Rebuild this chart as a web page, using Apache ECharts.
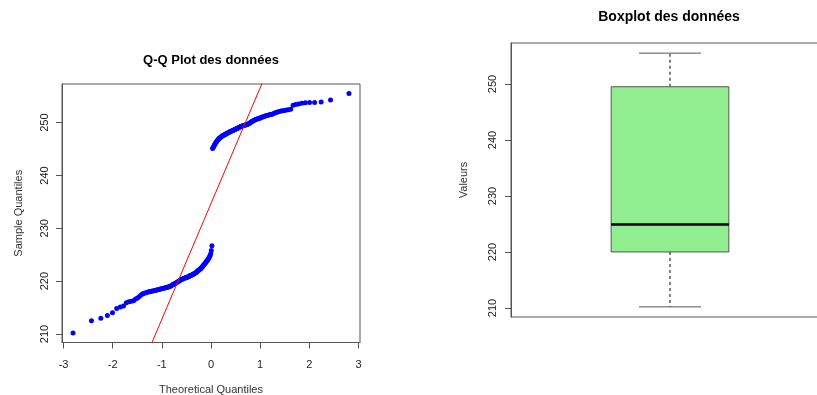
<!DOCTYPE html>
<html>
<head>
<meta charset="utf-8">
<title>Q-Q Plot et Boxplot des données</title>
<script src="https://cdn.jsdelivr.net/npm/echarts@6/dist/echarts.min.js"></script>
<style>
  html, body { margin: 0; padding: 0; background: #fff; }
  #chart { width: 817px; height: 395px; }
</style>
</head>
<body>
<div id="chart"></div>
<script>
// Sorted sample: lower group and upper group of the measurements
const lowerGroup = [
  210.2, 212.5, 213.0, 213.5, 214.0, 214.8, 215.1, 215.3, 215.9, 216.1,
  216.2, 216.3, 216.6, 216.8, 217.1, 217.4, 217.6, 217.7, 217.8, 217.9,
  218.0, 218.0, 218.1, 218.15, 218.2, 218.25, 218.3, 218.35, 218.4, 218.45,
  218.5, 218.55, 218.6, 218.65, 218.7, 218.75, 218.8, 218.85, 218.9, 219.0,
  219.05, 219.1, 219.2, 219.3, 219.4, 219.5, 219.55, 219.65, 219.75, 219.85,
  219.95, 220.05, 220.1, 220.2, 220.3, 220.35, 220.4, 220.5, 220.55, 220.6,
  220.65, 220.7, 220.75, 220.8, 220.85, 220.9, 221.0, 221.05, 221.1, 221.15,
  221.2, 221.3, 221.35, 221.45, 221.5, 221.6, 221.7, 221.8, 221.9, 222.0,
  222.1, 222.2, 222.3, 222.4, 222.5, 222.65, 222.8, 222.95, 223.1, 223.25,
  223.4, 223.55, 223.7, 223.85, 224.0, 224.2, 224.4, 224.6, 224.8, 225.2,
  225.8, 226.7
];
const upperGroup = [
  245.1, 245.3, 245.5, 245.75, 245.95, 246.15, 246.35, 246.5, 246.65, 246.8,
  246.95, 247.05, 247.15, 247.25, 247.35, 247.4, 247.5, 247.55, 247.6, 247.7,
  247.75, 247.85, 247.9, 248.0, 248.05, 248.1, 248.2, 248.25, 248.3, 248.35,
  248.4, 248.45, 248.5, 248.6, 248.65, 248.7, 248.8, 248.85, 248.9, 249.0,
  249.05, 249.1, 249.2, 249.25, 249.3, 249.35, 249.4, 249.45, 249.5, 249.55,
  249.6, 249.65, 249.7, 249.8, 249.9, 250.0, 250.1, 250.2, 250.3, 250.4,
  250.5, 250.6, 250.65, 250.7, 250.8, 250.85, 250.9, 251.0, 251.05, 251.1,
  251.2, 251.3, 251.35, 251.4, 251.5, 251.55, 251.6, 251.7, 251.8, 251.9,
  252.0, 252.1, 252.2, 252.25, 252.3, 252.4, 252.45, 252.55, 253.3, 253.45,
  253.55, 253.65, 253.75, 253.8, 253.8, 253.9, 254.3, 255.5
];

// Boxplot statistics: lower whisker, Q1, median, Q3, upper whisker
const boxStats = [210.2, 220.0, 224.9, 249.5, 255.5];

// Tick labels
const qqXTicks = [-3, -2, -1, 0, 1, 2, 3];
const valueTicks = [210, 220, 230, 240, 250];

// Normal quantile function (Acklam's rational approximation)
function qnorm(p) {
  const a = [-3.969683028665376e+01, 2.209460984245205e+02, -2.759285104469687e+02,
             1.383577518672690e+02, -3.066479806614716e+01, 2.506628277459239e+00];
  const b = [-5.447609879822406e+01, 1.615858368580409e+02, -1.556989798598866e+02,
             6.680131188771972e+01, -1.328068155288572e+01];
  const c = [-7.784894002430293e-03, -3.223964580411365e-01, -2.400758277161838e+00,
             -2.549732539343734e+00, 4.374664141464968e+00, 2.938163982698783e+00];
  const d = [7.784695709041462e-03, 3.224671290700398e-01, 2.445134137142996e+00,
             3.754408661907416e+00];
  const pl = 0.02425, ph = 1 - pl;
  if (p < pl) {
    const q = Math.sqrt(-2 * Math.log(p));
    return (((((c[0]*q+c[1])*q+c[2])*q+c[3])*q+c[4])*q+c[5]) / ((((d[0]*q+d[1])*q+d[2])*q+d[3])*q+1);
  }
  if (p <= ph) {
    const q = p - 0.5, r = q * q;
    return (((((a[0]*r+a[1])*r+a[2])*r+a[3])*r+a[4])*r+a[5])*q / (((((b[0]*r+b[1])*r+b[2])*r+b[3])*r+b[4])*r+1);
  }
  const q = Math.sqrt(-2 * Math.log(1 - p));
  return -(((((c[0]*q+c[1])*q+c[2])*q+c[3])*q+c[4])*q+c[5]) / ((((d[0]*q+d[1])*q+d[2])*q+d[3])*q+1);
}

// Theoretical quantiles at plotting positions (as qqnorm does)
const sample = lowerGroup.concat(upperGroup);
const n = sample.length;
const aPos = n <= 10 ? 3 / 8 : 0.5;
const qqPoints = sample.map((v, i) => [qnorm((i + 1 - aPos) / (n + 1 - 2 * aPos)), v]);

// Reference line through the first and third quartiles
function quantile7(sorted, p) {
  const h = (sorted.length - 1) * p;
  const lo = Math.floor(h);
  return sorted[lo] + (h - lo) * ((sorted[lo + 1] ?? sorted[lo]) - sorted[lo]);
}
const yQ1 = quantile7(sample, 0.25), yQ3 = quantile7(sample, 0.75);
const xQ1 = qnorm(0.25), xQ3 = qnorm(0.75);
const slope = (yQ3 - yQ1) / (xQ3 - xQ1);
const intercept = yQ1 - slope * xQ1;
const refLine = [[-5, intercept - 5 * slope], [5, intercept + 5 * slope]];

// Axis ranges extended by 4% like base graphics
function padded(lo, hi) { const r = hi - lo; return [lo - 0.04 * r, hi + 0.04 * r]; }
const xExt = padded(qqPoints[0][0], qqPoints[n - 1][0]);
const yExt = padded(sample[0], sample[n - 1]);
const boxExt = padded(boxStats[0], boxStats[4]);

const font = 'Liberation Sans, Arial, sans-serif';
const frameColor = '#555';
const tickText = { color: '#222', fontSize: 11, fontFamily: font };
const titleText = { color: '#333', fontSize: 11, fontFamily: font };
const frameLine = { show: true, onZero: false, lineStyle: { color: frameColor, width: 1 } };

const chart = echarts.init(document.getElementById('chart'), null, { renderer: 'canvas' });
chart.setOption({
  animation: false,
  backgroundColor: '#fff',
  textStyle: { fontFamily: font },
  title: [
    { text: 'Q-Q Plot des données', left: 211, top: 54, textAlign: 'center', padding: 0,
      textStyle: { fontFamily: font, fontSize: 13, fontWeight: 'bold', color: '#000' } },
    { text: 'Boxplot des données', left: 669, top: 10, textAlign: 'center', padding: 0,
      textStyle: { fontFamily: font, fontSize: 14, fontWeight: 'bold', color: '#000' } }
  ],
  grid: [
    { left: 62, top: 84, width: 298, height: 258.5, show: true, outerBoundsMode: 'none',
      borderColor: frameColor, borderWidth: 1, backgroundColor: 'transparent' },
    { left: 511, top: 43, width: 318, height: 274, show: true, outerBoundsMode: 'none',
      borderColor: frameColor, borderWidth: 1, backgroundColor: 'transparent' }
  ],
  xAxis: [
    { gridIndex: 0, type: 'value', min: xExt[0], max: xExt[1],
      name: 'Theoretical Quantiles', nameLocation: 'middle', nameGap: 42,
      nameTextStyle: titleText,
      axisLine: frameLine,
      axisTick: { show: true, length: 6, customValues: qqXTicks, lineStyle: { color: frameColor } },
      axisLabel: { customValues: qqXTicks, margin: 17, ...tickText },
      splitLine: { show: false } },
    { gridIndex: 1, type: 'category', data: [''], show: false }
  ],
  yAxis: [
    { gridIndex: 0, type: 'value', min: yExt[0], max: yExt[1],
      name: 'Sample Quantiles', nameLocation: 'middle', nameGap: 38,
      nameTextStyle: titleText,
      axisLine: frameLine,
      axisTick: { show: true, length: 6, customValues: valueTicks, lineStyle: { color: frameColor } },
      axisLabel: { customValues: valueTicks, rotate: 90, margin: 12, ...tickText },
      splitLine: { show: false } },
    { gridIndex: 1, type: 'value', min: boxExt[0], max: boxExt[1],
      name: 'Valeurs', nameLocation: 'middle', nameGap: 42,
      nameTextStyle: titleText,
      axisLine: frameLine,
      axisTick: { show: true, length: 6, customValues: valueTicks, lineStyle: { color: frameColor } },
      axisLabel: { customValues: valueTicks, rotate: 90, margin: 13, ...tickText },
      splitLine: { show: false } }
  ],
  series: [
    { type: 'scatter', xAxisIndex: 0, yAxisIndex: 0, data: qqPoints,
      symbol: 'circle', symbolSize: 5, itemStyle: { color: '#0000ff', opacity: 1 }, z: 2 },
    { type: 'line', xAxisIndex: 0, yAxisIndex: 0, data: refLine, showSymbol: false,
      clip: true, lineStyle: { color: '#ff0000', width: 1 }, z: 3 },
    { type: 'custom', xAxisIndex: 1, yAxisIndex: 1,
      data: [[0].concat(boxStats)],
      encode: { x: 0, y: [1, 2, 3, 4, 5] },
      renderItem: function (params, api) {
        const lo = api.value(1), q1 = api.value(2), med = api.value(3), q3 = api.value(4), hi = api.value(5);
        const band = api.size([1, 0])[0];
        const cx = api.coord([0, med])[0];
        const y = v => api.coord([0, v])[1];
        const hb = band * 0.185, hc = band * 0.0975;
        const dashed = { stroke: '#000', lineWidth: 1, lineDash: [3, 3] };
        const cap = { stroke: '#555', lineWidth: 1 };
        return { type: 'group', children: [
          { type: 'line', shape: { x1: cx, y1: y(q3), x2: cx, y2: y(hi) }, style: dashed },
          { type: 'line', shape: { x1: cx, y1: y(q1), x2: cx, y2: y(lo) }, style: dashed },
          { type: 'line', shape: { x1: cx - hc, y1: y(hi), x2: cx + hc, y2: y(hi) }, style: cap },
          { type: 'line', shape: { x1: cx - hc, y1: y(lo), x2: cx + hc, y2: y(lo) }, style: cap },
          { type: 'rect', shape: { x: cx - hb, y: y(q3), width: 2 * hb, height: y(q1) - y(q3) },
            style: { fill: '#90ee90', stroke: '#555', lineWidth: 1 } },
          { type: 'line', shape: { x1: cx - hb, y1: y(med), x2: cx + hb, y2: y(med) },
            style: { stroke: '#000', lineWidth: 2.5 } }
        ] };
      } }
  ]
});
</script>
</body>
</html>
